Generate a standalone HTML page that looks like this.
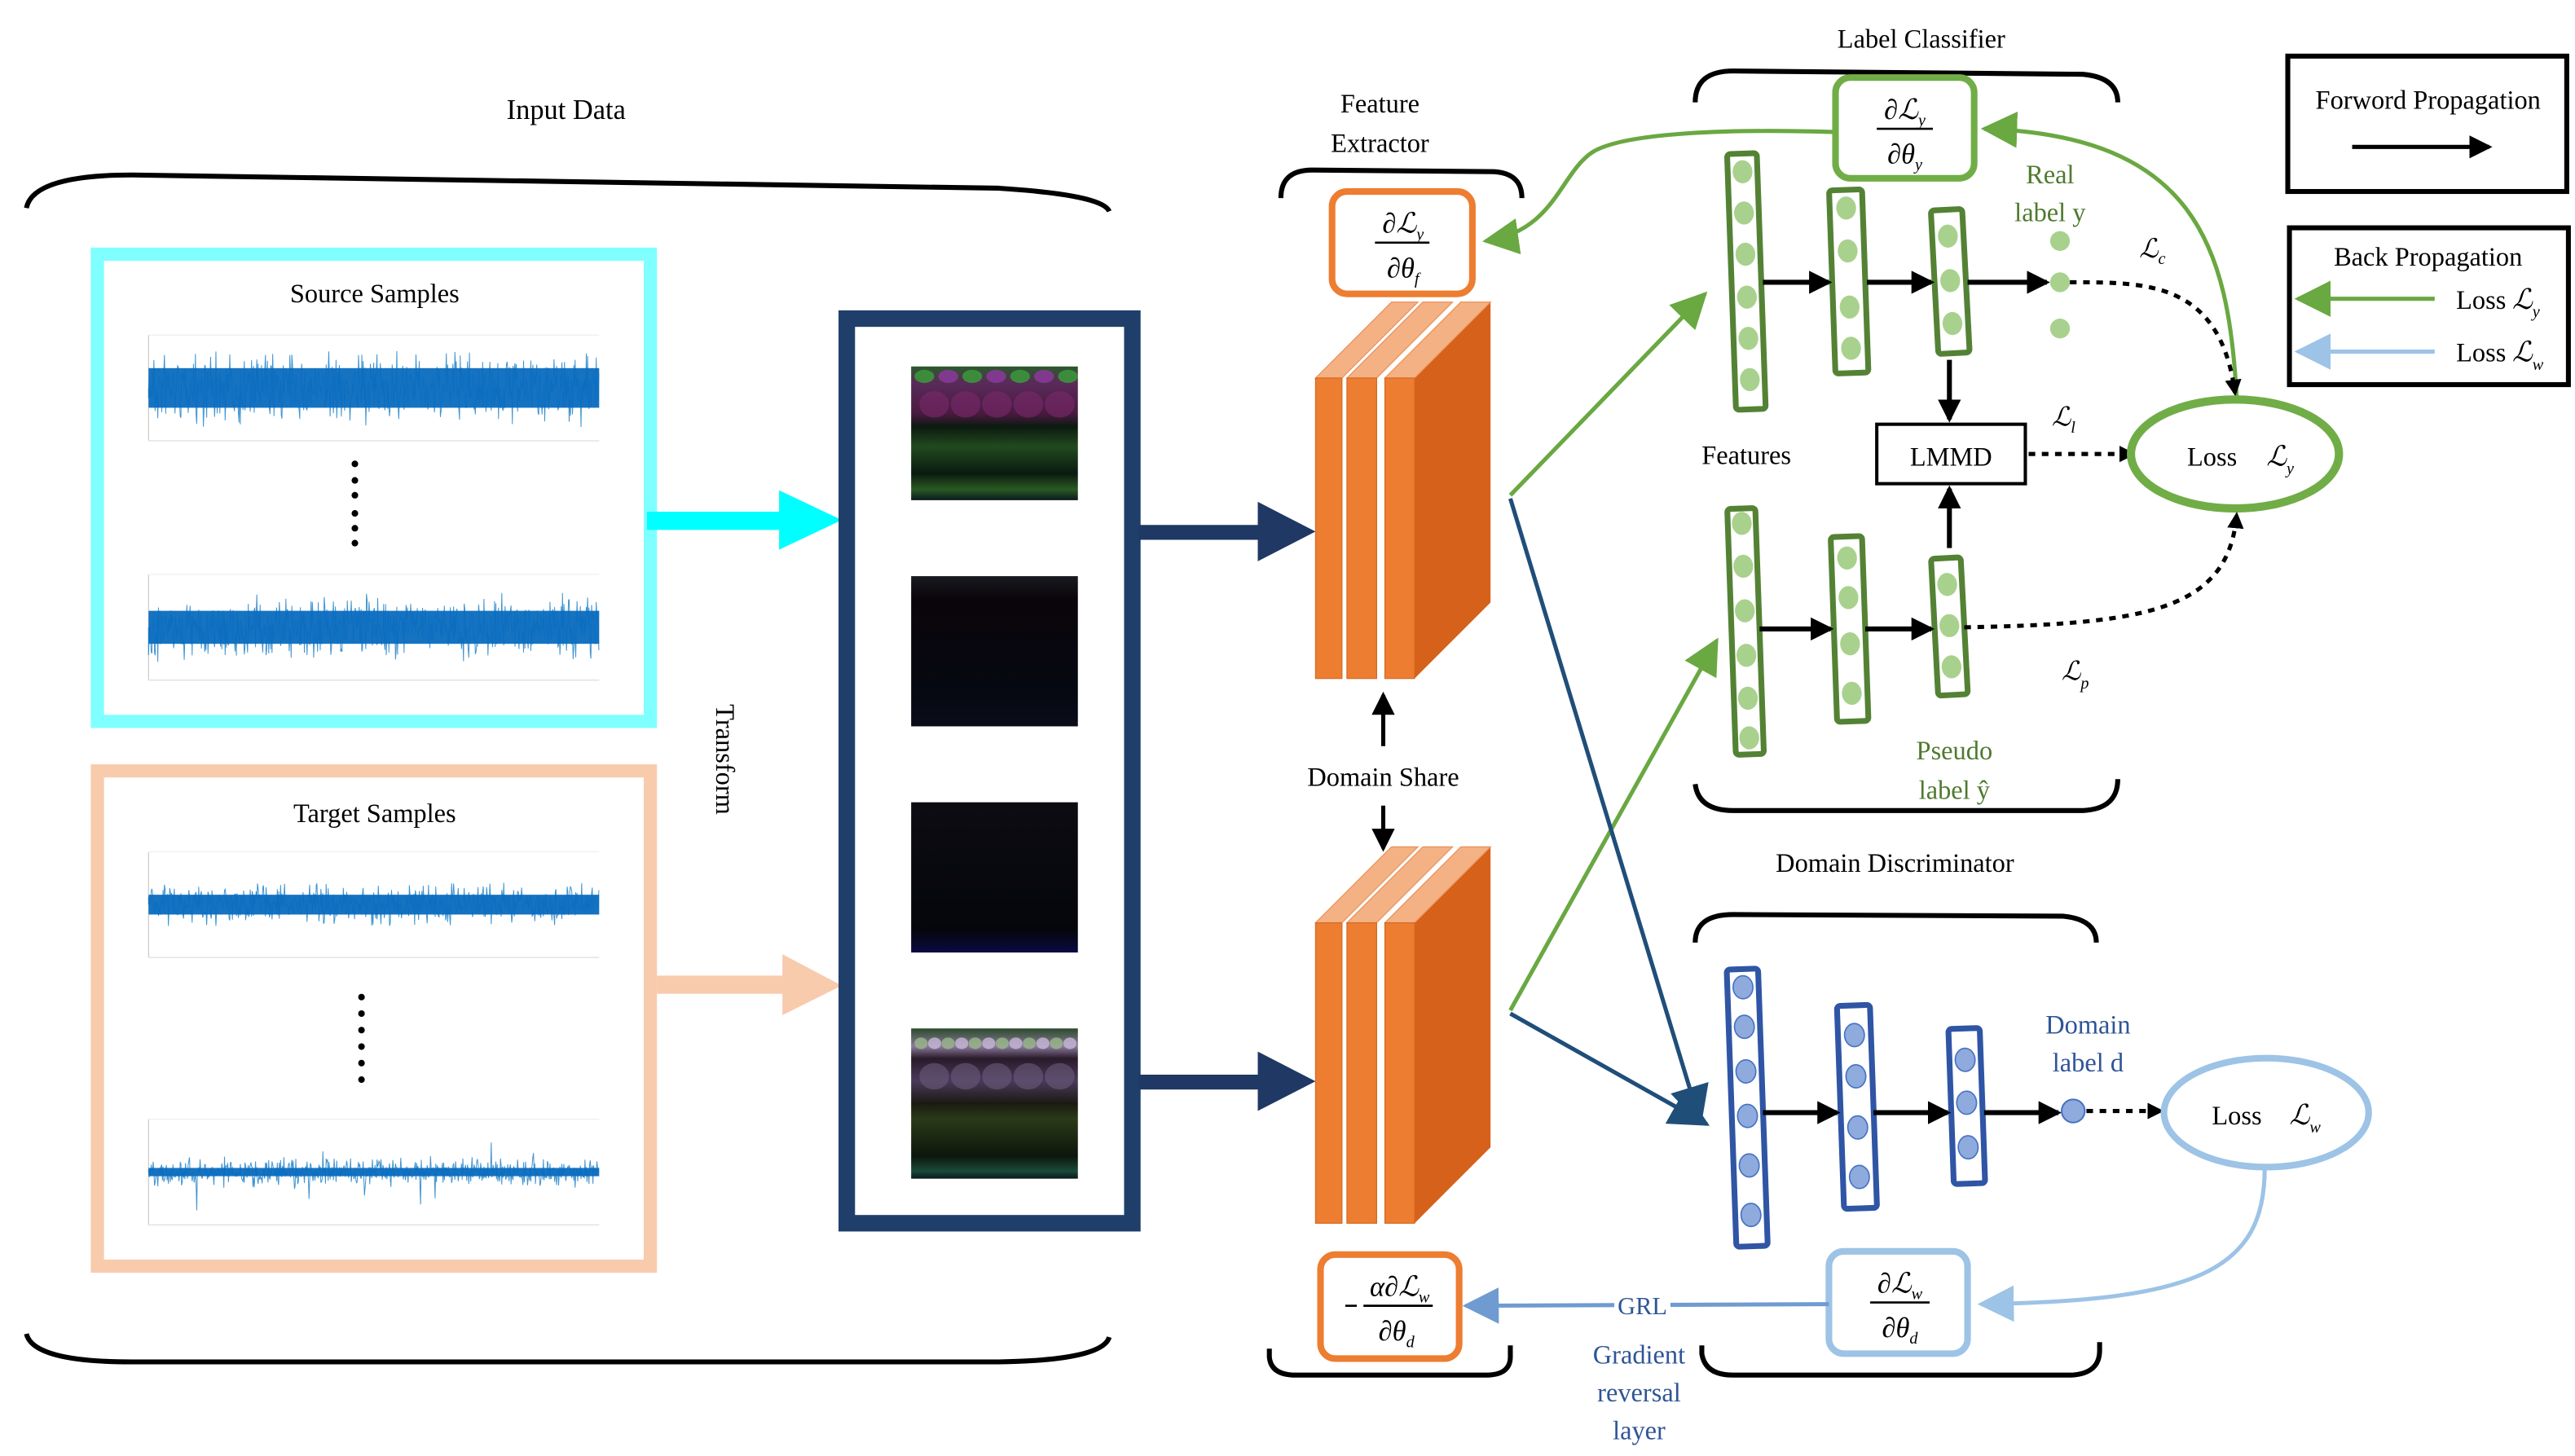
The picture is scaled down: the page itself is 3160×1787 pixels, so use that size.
<!DOCTYPE html>
<html><head><meta charset="utf-8"><style>
html,body{margin:0;padding:0;background:#fff}
svg{display:block}
text{font-family:"Liberation Serif",serif;}
</style></head><body>
<svg id="s" width="3160" height="1787" viewBox="0 0 1560 882" preserveAspectRatio="none" xmlns="http://www.w3.org/2000/svg">
<defs>
<marker id="ab" markerWidth="10" markerHeight="10" refX="8" refY="5" orient="auto" markerUnits="userSpaceOnUse"><path d="M0,0 L10,5 L0,10 z" fill="#000"/></marker>
<marker id="abk" markerWidth="14" markerHeight="14" refX="12" refY="7" orient="auto" markerUnits="userSpaceOnUse"><path d="M0,0 L14,7 L0,14 z" fill="#000"/></marker>
<marker id="ag" markerWidth="22" markerHeight="22" refX="20" refY="11" orient="auto" markerUnits="userSpaceOnUse"><path d="M0,0 L22,11 L0,22 z" fill="#6aa842"/></marker>
<marker id="an" markerWidth="24" markerHeight="24" refX="22" refY="12" orient="auto" markerUnits="userSpaceOnUse"><path d="M0,0 L24,12 L0,24 z" fill="#1f4e79"/></marker>
<marker id="alb" markerWidth="22" markerHeight="22" refX="20" refY="11" orient="auto" markerUnits="userSpaceOnUse"><path d="M0,0 L22,11 L0,22 z" fill="#9dc3e6"/></marker>
<marker id="amb" markerWidth="22" markerHeight="22" refX="20" refY="11" orient="auto" markerUnits="userSpaceOnUse"><path d="M0,0 L22,11 L0,22 z" fill="#6f9bd1"/></marker>
<linearGradient id="im1" x1="0" y1="0" x2="0" y2="1"><stop offset="0" stop-color="#2a5a2a"/><stop offset="0.12" stop-color="#5a2a5a"/><stop offset="0.35" stop-color="#4a1a40"/><stop offset="0.45" stop-color="#0c1a10"/><stop offset="0.6" stop-color="#224a1e"/><stop offset="0.8" stop-color="#0a1a10"/><stop offset="0.92" stop-color="#2a5a22"/><stop offset="1" stop-color="#0a1a20"/></linearGradient>
<linearGradient id="im2" x1="0" y1="0" x2="0" y2="1"><stop offset="0" stop-color="#1a1a22"/><stop offset="0.15" stop-color="#0a050a"/><stop offset="0.8" stop-color="#060812"/><stop offset="1" stop-color="#0a0c1a"/></linearGradient>
<linearGradient id="im3" x1="0" y1="0" x2="0" y2="1"><stop offset="0" stop-color="#0c0c12"/><stop offset="0.85" stop-color="#05060c"/><stop offset="1" stop-color="#0a0a40"/></linearGradient>
<linearGradient id="im4" x1="0" y1="0" x2="0" y2="1"><stop offset="0" stop-color="#2a4a2a"/><stop offset="0.12" stop-color="#8a7a9a"/><stop offset="0.2" stop-color="#2a1a2a"/><stop offset="0.35" stop-color="#4a3a5a"/><stop offset="0.5" stop-color="#1a1a12"/><stop offset="0.6" stop-color="#2a3a18"/><stop offset="0.85" stop-color="#0c160c"/><stop offset="0.95" stop-color="#1a4a3a"/><stop offset="1" stop-color="#0a1a1a"/></linearGradient>
</defs>

<text x="343" y="72" font-size="17" text-anchor="middle">Input Data</text>
<path d="M16,126 Q20,106 80,106 L605,114 Q668,118 672,128" fill="none" stroke="#000" stroke-width="3"/>
<path d="M16,808 Q20,825 80,825 L605,825 Q668,824 672,810" fill="none" stroke="#000" stroke-width="3"/>

<rect x="59" y="154" width="335" height="283" fill="#fff" stroke="#7fffff" stroke-width="8"/>
<text x="227" y="183" font-size="16" text-anchor="middle">Source Samples</text>
<rect x="59" y="467" width="335" height="300" fill="#fff" stroke="#f8cbad" stroke-width="8"/>
<text x="227" y="498" font-size="16" text-anchor="middle">Target Samples</text>
<g id="sig"></g>
<g fill="#000">
<circle cx="215" cy="281" r="2"/><circle cx="215" cy="291" r="2"/><circle cx="215" cy="300" r="2"/><circle cx="215" cy="311" r="2"/><circle cx="215" cy="320" r="2"/><circle cx="215" cy="329" r="2"/>
<circle cx="219" cy="604" r="2"/><circle cx="219" cy="614" r="2"/><circle cx="219" cy="624" r="2"/><circle cx="219" cy="634" r="2"/><circle cx="219" cy="644" r="2"/><circle cx="219" cy="654" r="2"/>
</g>

<rect x="392" y="310" width="82" height="11" fill="#00ffff"/>
<polygon points="472,297 510,315 472,333" fill="#00ffff"/>
<rect x="398" y="591" width="78" height="11" fill="#f8cbad"/>
<polygon points="474,578 510,597 474,615" fill="#f8cbad"/>
<text transform="translate(434,460) rotate(90)" font-size="16" text-anchor="middle">Transform</text>

<rect x="513" y="193" width="173" height="548" fill="#fff" stroke="#1f3f6a" stroke-width="10"/>
<rect x="552" y="222" width="101" height="81" fill="url(#im1)"/>
<rect x="552" y="349" width="101" height="91" fill="url(#im2)"/>
<rect x="552" y="486" width="101" height="91" fill="url(#im3)"/>
<rect x="552" y="623" width="101" height="91" fill="url(#im4)"/>
<g id="blobs"></g>

<rect x="690" y="318" width="75" height="9" fill="#1f3864"/>
<polygon points="762,304 797,322 762,340" fill="#1f3864"/>
<rect x="690" y="651" width="75" height="9" fill="#1f3864"/>
<polygon points="762,637 797,655 762,673" fill="#1f3864"/>

<text x="836" y="68" font-size="16" text-anchor="middle">Feature</text>
<text x="836" y="92" font-size="16" text-anchor="middle">Extractor</text>
<path d="M776,120 Q776,103 795,103 L905,104 Q922,105 922,120" fill="none" stroke="#000" stroke-width="3"/>
<rect x="807" y="116" width="85" height="62" rx="9" fill="#fff" stroke="#ed7d31" stroke-width="4"/>
<g id="blocks"></g>
<line x1="838" y1="452" x2="838" y2="421" stroke="#000" stroke-width="2.5" marker-end="url(#abk)"/>
<line x1="838" y1="488" x2="838" y2="514" stroke="#000" stroke-width="2.5" marker-end="url(#abk)"/>
<text x="838" y="476" font-size="16" text-anchor="middle">Domain Share</text>
<rect x="800" y="760" width="84" height="63" rx="9" fill="#fff" stroke="#ed7d31" stroke-width="4"/>
<path d="M769,817 L769,822 Q770,833 785,833 L900,833 Q915,833 915,822 L915,815" fill="none" stroke="#000" stroke-width="3"/>

<line x1="915" y1="300" x2="1033" y2="178" stroke="#6aa842" stroke-width="2.5" marker-end="url(#ag)"/>
<line x1="915" y1="612" x2="1040" y2="388" stroke="#6aa842" stroke-width="2.5" marker-end="url(#ag)"/>
<line x1="915" y1="302" x2="1030" y2="680" stroke="#1f4e79" stroke-width="2.5" marker-end="url(#an)"/>
<line x1="915" y1="614" x2="1034" y2="681" stroke="#1f4e79" stroke-width="2.5" marker-end="url(#an)"/>

<text x="1164" y="29" font-size="16" text-anchor="middle">Label Classifier</text>
<path d="M1027,62 Q1027,43 1050,43 L1262,45 Q1283,47 1283,62" fill="none" stroke="#000" stroke-width="3"/>
<path d="M1112,80 C1050,78 985,80 965,92 C945,105 942,140 900,146" fill="none" stroke="#6aa842" stroke-width="2.5" marker-end="url(#ag)"/>
<path d="M1355,240 C1350,150 1330,82 1202,78" fill="none" stroke="#6aa842" stroke-width="2.5" marker-end="url(#ag)"/>
<rect x="1112" y="47" width="84" height="61" rx="9" fill="#fff" stroke="#70ad47" stroke-width="4"/>
<g id="cols"></g>
<text x="1242" y="111" font-size="16" text-anchor="middle" fill="#4e7a2e">Real</text>
<text x="1242" y="134" font-size="16" text-anchor="middle" fill="#4e7a2e">label y</text>
<circle cx="1248" cy="146" r="6" fill="#a9d18e"/><circle cx="1248" cy="171" r="6" fill="#a9d18e"/><circle cx="1248" cy="199" r="6" fill="#a9d18e"/>
<path d="M1254,171 C1300,171 1345,170 1354,238" fill="none" stroke="#000" stroke-width="2.5" stroke-dasharray="4,4" marker-end="url(#ab)"/>
<text x="1296" y="156" font-size="16" font-style="italic">ℒ<tspan font-size="10" dy="4">c</tspan></text>
<line x1="1181" y1="218" x2="1181" y2="254" stroke="#000" stroke-width="3" marker-end="url(#abk)"/>
<line x1="1181" y1="332" x2="1181" y2="296" stroke="#000" stroke-width="3" marker-end="url(#abk)"/>
<rect x="1137" y="257" width="90" height="36" fill="#fff" stroke="#000" stroke-width="2"/>
<text x="1182" y="282" font-size="16" text-anchor="middle">LMMD</text>
<text x="1058" y="281" font-size="16" text-anchor="middle">Features</text>
<text x="1243" y="258" font-size="16" font-style="italic">ℒ<tspan font-size="10" dy="4">l</tspan></text>
<line x1="1229" y1="275" x2="1292" y2="275" stroke="#000" stroke-width="2.5" stroke-dasharray="4,4" marker-end="url(#ab)"/>
<ellipse cx="1354" cy="275" rx="63" ry="33" fill="#fff" stroke="#70ad47" stroke-width="5"/>
<text x="1325" y="282" font-size="16">Loss</text>
<text x="1373" y="282" font-size="17" font-style="italic">ℒ<tspan font-size="10" dy="5">y</tspan></text>
<path d="M1190,380 C1300,378 1350,370 1355,312" fill="none" stroke="#000" stroke-width="2.5" stroke-dasharray="4,4" marker-end="url(#ab)"/>
<text x="1249" y="412" font-size="16" font-style="italic">ℒ<tspan font-size="10" dy="5">p</tspan></text>
<text x="1184" y="460" font-size="16" text-anchor="middle" fill="#4e7a2e">Pseudo</text>
<text x="1184" y="484" font-size="16" text-anchor="middle" fill="#4e7a2e">label  ŷ</text>
<path d="M1027,475 Q1029,491 1050,491 L1262,491 Q1283,490 1283,472" fill="none" stroke="#000" stroke-width="3"/>

<text x="1148" y="528" font-size="16" text-anchor="middle">Domain Discriminator</text>
<path d="M1027,571 Q1027,554 1050,554 L1250,555 Q1270,557 1270,571" fill="none" stroke="#000" stroke-width="3"/>
<text x="1265" y="626" font-size="16" text-anchor="middle" fill="#2f5597">Domain</text>
<text x="1265" y="649" font-size="16" text-anchor="middle" fill="#2f5597">label  d</text>
<circle cx="1256" cy="673" r="7" fill="#8faadc" stroke="#4472c4" stroke-width="1"/>
<line x1="1264" y1="673" x2="1309" y2="673" stroke="#000" stroke-width="2.5" stroke-dasharray="4,4" marker-end="url(#ab)"/>
<ellipse cx="1373" cy="674" rx="62" ry="33" fill="#fff" stroke="#9dc3e6" stroke-width="4"/>
<text x="1340" y="681" font-size="16">Loss</text>
<text x="1387" y="681" font-size="17" font-style="italic">ℒ<tspan font-size="10" dy="5">w</tspan></text>
<path d="M1372,708 C1372,770 1330,788 1200,790" fill="none" stroke="#9dc3e6" stroke-width="2.5" marker-end="url(#alb)"/>
<rect x="1108" y="758" width="84" height="62" rx="9" fill="#fff" stroke="#9dc3e6" stroke-width="4"/>
<line x1="1108" y1="790" x2="888" y2="791" stroke="#6f9bd1" stroke-width="2.5" marker-end="url(#amb)"/>
<rect x="978" y="781" width="34" height="18" fill="#fff"/>
<text x="995" y="796" font-size="15" text-anchor="middle" fill="#2f5597">GRL</text>
<text x="993" y="826" font-size="16" text-anchor="middle" fill="#2f5597">Gradient</text>
<text x="993" y="849" font-size="16" text-anchor="middle" fill="#2f5597">reversal</text>
<text x="993" y="872" font-size="16" text-anchor="middle" fill="#2f5597">layer</text>
<path d="M1031,815 L1031,820 Q1033,833 1050,833 L1255,833 Q1272,832 1272,818 L1272,813" fill="none" stroke="#000" stroke-width="3"/>

<g font-size="17" font-style="italic" text-anchor="middle">
<text x="850" y="141">∂ℒ<tspan font-size="10" dy="4">y</tspan></text>
<line x1="833" y1="147" x2="866" y2="147" stroke="#000" stroke-width="1.3"/>
<text x="850" y="168">∂θ<tspan font-size="10" dy="4">f</tspan></text>
<text x="1154" y="72">∂ℒ<tspan font-size="10" dy="4">y</tspan></text>
<line x1="1137" y1="78" x2="1171" y2="78" stroke="#000" stroke-width="1.3"/>
<text x="1154" y="99">∂θ<tspan font-size="10" dy="4">y</tspan></text>
<text x="1151" y="783">∂ℒ<tspan font-size="10" dy="4">w</tspan></text>
<line x1="1133" y1="789" x2="1169" y2="789" stroke="#000" stroke-width="1.3"/>
<text x="1151" y="810">∂θ<tspan font-size="10" dy="4">d</tspan></text>
<text x="848" y="785">α∂ℒ<tspan font-size="10" dy="4">w</tspan></text>
<line x1="826" y1="791" x2="868" y2="791" stroke="#000" stroke-width="1.3"/>
<line x1="815" y1="791" x2="822" y2="791" stroke="#000" stroke-width="1.3"/>
<text x="846" y="812">∂θ<tspan font-size="10" dy="4">d</tspan></text>
</g>

<rect x="1386" y="34" width="169" height="82" fill="#fff" stroke="#000" stroke-width="3"/>
<text x="1471" y="66" font-size="16" text-anchor="middle">Forword Propagation</text>
<line x1="1425" y1="89" x2="1508" y2="89" stroke="#000" stroke-width="2.5" marker-end="url(#abk)"/>
<rect x="1387" y="138" width="169" height="95" fill="#fff" stroke="#000" stroke-width="3"/>
<text x="1471" y="161" font-size="16" text-anchor="middle">Back Propagation</text>
<line x1="1475" y1="181" x2="1392" y2="181" stroke="#6aa842" stroke-width="2.5" marker-end="url(#ag)"/>
<line x1="1475" y1="213" x2="1392" y2="213" stroke="#9dc3e6" stroke-width="2.5" marker-end="url(#alb)"/>
<text x="1488" y="187" font-size="16">Loss</text><text x="1522" y="187" font-size="17" font-style="italic">ℒ<tspan font-size="10" dy="5">y</tspan></text>
<text x="1488" y="219" font-size="16">Loss</text><text x="1522" y="219" font-size="17" font-style="italic">ℒ<tspan font-size="10" dy="5">w</tspan></text>
</svg>
<script>
(function(){
var NS="http://www.w3.org/2000/svg";
function el(p,t,a){var e=document.createElementNS(NS,t);for(var k in a)e.setAttribute(k,a[k]);p.appendChild(e);return e;}
var seed=7;function r(){seed=(seed*16807)%2147483647;return seed/2147483647;}
var sig=document.getElementById('sig');
function signal(cy,amp,core,spiky){
  el(sig,'line',{x1:90,y1:cy-32,x2:90,y2:cy+32,stroke:'#ccc','stroke-width':0.6});
  el(sig,'line',{x1:90,y1:cy+32,x2:363,y2:cy+32,stroke:'#ddd','stroke-width':0.6});
  el(sig,'line',{x1:90,y1:cy-32,x2:363,y2:cy-32,stroke:'#eee','stroke-width':0.6});
  var d='M90,'+cy;
  for(var x=90;x<=363;x+=0.4){var a=amp*(0.3+r()*0.7);if(spiky&&Math.round(x*2)%17==0)a*=2.5;d+=' L'+x.toFixed(1)+','+(cy+(r()-0.5)*2*a).toFixed(1);}
  el(sig,'path',{d:d,fill:'none',stroke:'#0070c0','stroke-width':0.5,opacity:0.75});
  el(sig,'rect',{x:90,y:cy-core/2,width:273,height:core,fill:'#0a6cbf',opacity:0.95});
}
signal(235,24,24,false);signal(380,22,20,false);signal(548,14,12,false);signal(710,10,5,true);
var b=document.getElementById('blobs');
for(var i=0;i<7;i++){el(b,'ellipse',{cx:560+i*14.5,cy:228,rx:6,ry:4,fill:i%2?'#8a3a9a':'#3a9a3a',opacity:0.85});}
for(var i=0;i<5;i++){el(b,'ellipse',{cx:566+i*19,cy:245,rx:9,ry:8,fill:'#7a2a6a',opacity:0.6});}
for(var i=0;i<12;i++){el(b,'ellipse',{cx:558+i*8.2,cy:632,rx:4,ry:3.5,fill:i%2?'#c8b8d8':'#9ab88a',opacity:0.8});}
for(var i=0;i<5;i++){el(b,'ellipse',{cx:566+i*19,cy:652,rx:9,ry:8,fill:'#6a5a7a',opacity:0.6});}
var bl=document.getElementById('blocks');
function block(dy){
  var xs=[[797,813],[816,834],[839,857]];
  el(bl,'polygon',{points:'857,'+(229+dy)+' 903,'+(183+dy)+' 903,'+(365+dy)+' 857,'+(411+dy),fill:'#d6611a'});
  xs.forEach(function(p){
    el(bl,'polygon',{points:p[0]+','+(229+dy)+' '+p[1]+','+(229+dy)+' '+(p[1]+46)+','+(183+dy)+' '+(p[0]+46)+','+(183+dy),fill:'#f4b183',stroke:'#e9915a','stroke-width':0.6});
    el(bl,'rect',{x:p[0],y:229+dy,width:p[1]-p[0],height:182,fill:'#ed7d31',stroke:'#d46a20','stroke-width':0.6});
  });
}
block(0);block(330);
var c=document.getElementById('cols');
function col(x1,x2,y1,y2,cys,stroke,fill,rot){
  var g=el(c,'g',{transform:'rotate('+rot+','+((x1+x2)/2)+','+((y1+y2)/2)+')'});
  el(g,'rect',{x:x1,y:y1,width:x2-x1,height:y2-y1,rx:2,fill:'#fff',stroke:stroke,'stroke-width':3.5});
  cys.forEach(function(y){el(g,'ellipse',{cx:(x1+x2)/2,cy:y,rx:6,ry:7,fill:fill,stroke:fill=='#8faadc'?'#4472c4':'none','stroke-width':0.8});});
}
var G='#548235',GF='#a9d18e',B='#2f55a4',BF='#8faadc';
col(1049,1067,93,248,[104,129,154,180,205,230],G,GF,-2);
col(1110,1130,115,226,[126,152,186,211],G,GF,-2);
col(1172,1191,127,214,[143,170,196],G,GF,-3);
col(1049,1066,308,457,[317,343,370,397,423,447],G,GF,-2);
col(1111,1130,325,437,[338,362,390,420],G,GF,-2);
col(1172,1190,338,421,[354,379,404],G,GF,-3);
col(1049,1068,587,755,[598,622,649,676,706,736],B,BF,-2);
col(1115,1135,609,732,[627,652,683,713],B,BF,-2);
col(1182,1201,623,717,[642,668,695],B,BF,-2);
function arr(x1,y,x2){el(c,'line',{x1:x1,y1:y,x2:x2,y2:y,stroke:'#000','stroke-width':3,'marker-end':'url(#abk)'});}
arr(1068,171,1108);arr(1131,171,1170);arr(1192,171,1240);
arr(1066,381,1109);arr(1130,381,1170);
arr(1068,674,1113);arr(1135,674,1180);arr(1202,674,1247);
})();
</script>
</body></html>
